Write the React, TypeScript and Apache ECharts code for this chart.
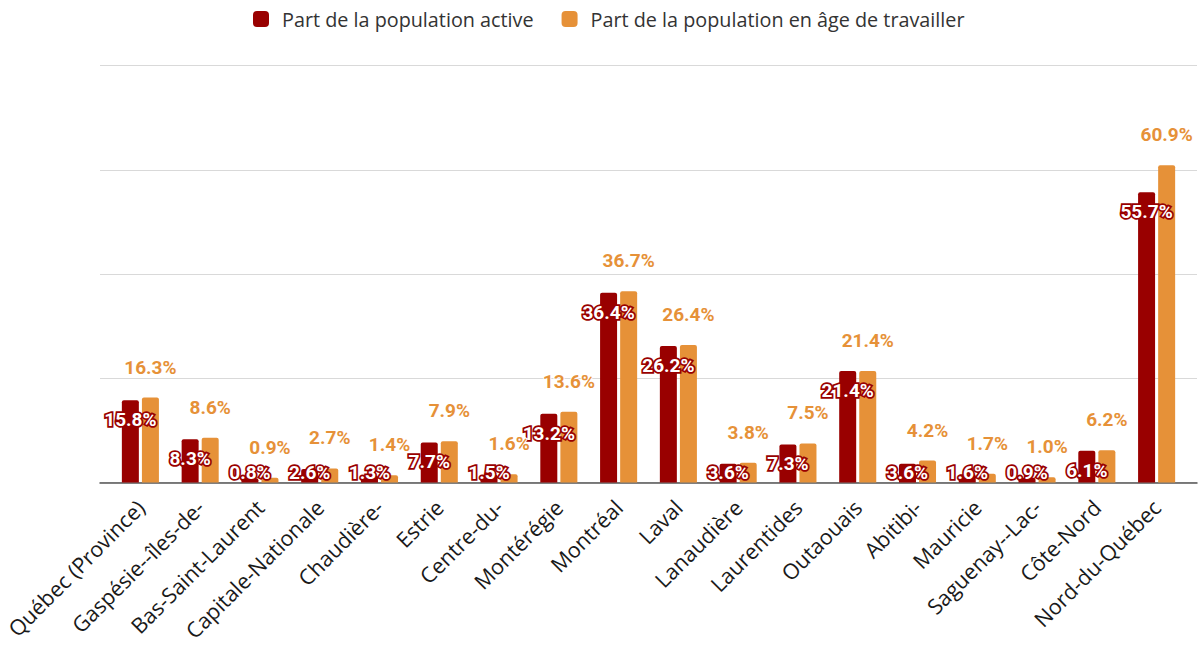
import React, { useEffect, useRef } from "react";
import * as echarts from "echarts";

const categories = [
  "Québec (Province)",
  "Gaspésie--îles-de-",
  "Bas-Saint-Laurent",
  "Capitale-Nationale",
  "Chaudière-",
  "Estrie",
  "Centre-du-",
  "Montérégie",
  "Montréal",
  "Laval",
  "Lanaudière",
  "Laurentides",
  "Outaouais",
  "Abitibi-",
  "Mauricie",
  "Saguenay--Lac-",
  "Côte-Nord",
  "Nord-du-Québec",
];

const activeShare = [15.8, 8.3, 0.8, 2.6, 1.3, 7.7, 1.5, 13.2, 36.4, 26.2, 3.6, 7.3, 21.4, 3.6, 1.6, 0.9, 6.1, 55.7];
const workingAgeShare = [16.3, 8.6, 0.9, 2.7, 1.4, 7.9, 1.6, 13.6, 36.7, 26.4, 3.8, 7.5, 21.4, 4.2, 1.7, 1.0, 6.2, 60.9];

const seriesNames = ["Part de la population active", "Part de la population en âge de travailler"];
const yTicks = { min: 0, max: 80, interval: 20 };

const RED = "#990000";
const ORANGE = "#E69138";

export default function App() {
  const ref = useRef<HTMLDivElement>(null);

  useEffect(() => {
    if (!ref.current) return;
    const chart = echarts.init(ref.current, null, { renderer: "svg" });
    const fmt = (p: any) => Number(p.value).toFixed(1) + "%";

    const redData = activeShare.map((v) => ({
      value: v,
      label:
        v > 5.8
          ? { position: "insideTop", distance: 10 }
          : { position: "insideBottom", distance: 1 },
    }));

    chart.setOption({
      animation: false,
      backgroundColor: "#ffffff",
      legend: {
        top: 4,
        left: 248,
        itemWidth: 16,
        itemHeight: 16,
        itemGap: 28,
        icon: "roundRect",
        textStyle: {
          fontFamily: "Open Sans",
          fontSize: 19.8,
          color: "#333333",
          padding: [0, 0, 0, 8],
        },
        data: seriesNames,
      },
      grid: [
        { left: 110.5, right: 11.5, top: 65.7, bottom: 162.5 },
        { left: 100, right: 1, top: 65.7, bottom: 162.5 },
      ],
      xAxis: [
        {
          type: "category",
          gridIndex: 0,
          data: categories,
          axisLine: { show: false },
          axisTick: { show: false },
          axisLabel: {
            rotate: 45,
            interval: 0,
            margin: 21,
            fontFamily: "Open Sans",
            fontSize: 21.5,
            color: "#1a1a1a",
          },
        },
        {
          type: "category",
          gridIndex: 1,
          data: [""],
          axisLine: { show: true, lineStyle: { color: "#555555", width: 1.5 } },
          axisTick: { show: false },
          axisLabel: { show: false },
        },
      ],
      yAxis: [
        {
          type: "value",
          gridIndex: 0,
          ...yTicks,
          show: false,
          splitLine: { show: false },
        },
        {
          type: "value",
          gridIndex: 1,
          ...yTicks,
          axisLine: { show: false },
          axisTick: { show: false },
          axisLabel: { show: false },
          splitLine: { show: true, lineStyle: { color: "#d9d9d9", width: 1.2 } },
        },
      ],
      series: [
        {
          name: seriesNames[0],
          type: "bar",
          xAxisIndex: 0,
          yAxisIndex: 0,
          data: redData,
          barWidth: 17,
          barGap: "18%",
          itemStyle: { color: RED, borderRadius: [2, 2, 0, 0] },
          label: {
            show: true,
            formatter: fmt,
            fontFamily: "Roboto",
            fontWeight: "bold",
            fontSize: 19,
            color: "#ffffff",
            textBorderColor: RED,
            textBorderWidth: 3.5,
          },
        },
        {
          name: seriesNames[1],
          type: "bar",
          xAxisIndex: 0,
          yAxisIndex: 0,
          data: workingAgeShare,
          barWidth: 17,
          itemStyle: { color: ORANGE, borderRadius: [2, 2, 0, 0] },
          label: {
            show: true,
            position: "top",
            distance: 21,
            formatter: fmt,
            fontFamily: "Roboto",
            fontWeight: "bold",
            fontSize: 19,
            color: ORANGE,
            textBorderColor: "#ffffff",
            textBorderWidth: 2,
          },
        },
      ],
    });

    return () => chart.dispose();
  }, []);

  return (
    <div
      ref={ref}
      style={{ position: "fixed", left: 0, top: 0, width: 1198, height: 645, background: "#fff" }}
    />
  );
}
